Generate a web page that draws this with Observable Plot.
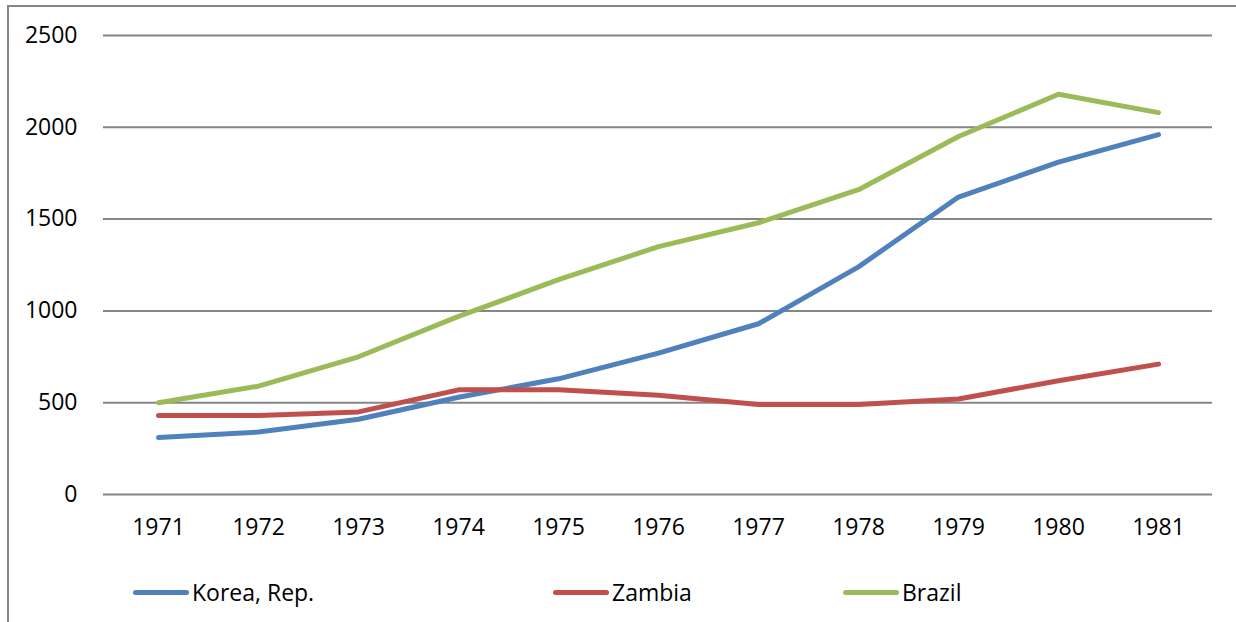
<!DOCTYPE html>
<html>
<head>
<meta charset="utf-8">
<script src="https://cdn.jsdelivr.net/npm/d3@7"></script>
<script src="https://cdn.jsdelivr.net/npm/@observablehq/plot@0.6"></script>
<style>
  html, body { margin: 0; padding: 0; background: #fff; }
  body { width: 1236px; height: 622px; position: relative; overflow: hidden; font-family: "Open Sans", sans-serif; }
  #chart { position: absolute; left: 0; top: 0; z-index: 1; }
  #legend { position: absolute; top: 576px; left: 0; width: 1236px; height: 32px; font-size: 23px; color: #000; z-index: 2; }
  .item { position: absolute; display: flex; align-items: center; white-space: nowrap; }
  .sw { display: inline-block; width: 56px; height: 5px; border-radius: 3px; margin-right: 3px; }
  #frame { position: absolute; left: 7px; top: 5px; width: 1240px; height: 640px; border-left: 2px solid #858585; border-top: 2px solid #858585; z-index: 5; pointer-events: none; }
</style>
</head>
<body>
<div id="chart"></div>
<div id="legend"></div>
<div id="frame"></div>
<script>
const years = [1971, 1972, 1973, 1974, 1975, 1976, 1977, 1978, 1979, 1980, 1981];
const seriesNames = ["Korea, Rep.", "Zambia", "Brazil"];
const korea  = [310, 340, 410, 530, 630, 770, 930, 1240, 1620, 1810, 1960];
const zambia = [430, 430, 450, 570, 570, 540, 490, 490, 520, 620, 710];
const brazil = [500, 590, 750, 970, 1170, 1350, 1480, 1660, 1950, 2180, 2080];
const colors = ["#4F81BD", "#C0504D", "#9BBB59"];
const yTicks = [0, 500, 1000, 1500, 2000, 2500];
const legendX = [133, 553, 843];

const valuesBySeries = [korea, zambia, brazil];
const rows = [];
seriesNames.forEach((s, i) => years.forEach((yr, j) => rows.push({series: s, year: String(yr), value: valuesBySeries[i][j]})));

const chart = Plot.plot({
  width: 1236,
  height: 560,
  marginLeft: 103,
  marginRight: 24,
  marginTop: 35,
  marginBottom: 66,
  style: { fontFamily: "Open Sans, sans-serif", fontSize: "23px", background: "transparent", color: "#000" },
  x: { type: "point", domain: years.map(String), padding: 0.5, label: null },
  y: { domain: [0, 2500], label: null },
  color: { domain: seriesNames, range: colors },
  marks: [
    Plot.ruleY(yTicks, { stroke: "#868686", strokeWidth: 2 }),
    Plot.axisY({ ticks: yTicks, tickFormat: d => String(d), tickSize: 0, tickPadding: 26, label: null, fontSize: 23 }),
    Plot.axisX({ tickSize: 0, tickPadding: 24, label: null, fontSize: 23 }),
    Plot.line(rows, { x: "year", y: "value", z: "series", stroke: "series", strokeWidth: 5, strokeLinecap: "round", strokeLinejoin: "round" })
  ]
});
document.getElementById("chart").appendChild(chart);

const legend = document.getElementById("legend");
seriesNames.forEach((s, i) => {
  const item = document.createElement("div");
  item.className = "item";
  item.style.left = legendX[i] + "px";
  const sw = document.createElement("span");
  sw.className = "sw";
  sw.style.background = colors[i];
  const t = document.createElement("span");
  t.textContent = s;
  item.appendChild(sw);
  item.appendChild(t);
  legend.appendChild(item);
});
</script>
</body>
</html>
